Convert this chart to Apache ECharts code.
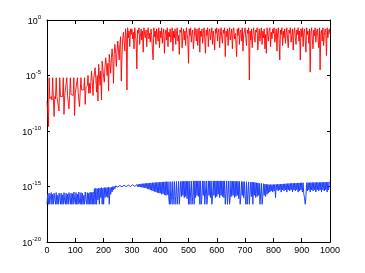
<!DOCTYPE html>
<html>
<head>
<meta charset="utf-8">
<script src="https://cdn.jsdelivr.net/npm/echarts@6/dist/echarts.min.js"></script>
<style>
html,body{margin:0;padding:0;background:#fff;}
#c{width:365px;height:273px;}
</style>
</head>
<body>
<div id="c"></div>
<script>
// x positions: 0..1000 every 2.5 units
var xStep = 2.5;
var xTicks = [0,100,200,300,400,500,600,700,800,900,1000];
var yTickExponents = [0,-5,-10,-15,-20];

// red series, log10 of value, one entry per x step (rows of 50 x-units)
var redLog10 = [
 -7.3,-8.4,-9.6,-5.2,-7.1,-7.0,-6.9,-7.2,-5.2,-7.0,-8.7,-6.9,-7.1,-5.2,-6.9,-7.0,-6.8,-8.2,-5.2,-6.9,
 -7.0,-6.8,-6.9,-5.2,-8.5,-6.8,-6.9,-6.7,-5.2,-6.8,-6.7,-8.0,-6.8,-5.2,-6.7,-6.6,-6.7,-6.8,-5.2,-8.6,
 -6.6,-6.5,-6.6,-5.2,-6.5,-6.4,-7.8,-6.4,-5.2,-6.3,-6.4,-6.2,-6.3,-5.2,-7.6,-6.1,-6.0,-5.9,-5.0,-6.6,
 -5.7,-6.6,-5.5,-4.6,-5.6,-6.8,-5.3,-5.2,-4.3,-5.3,-6.5,-5.0,-7.3,-4.0,-4.9,-5.9,-4.6,-7.2,-3.7,-4.5,
 -4.4,-5.6,-4.2,-3.4,-4.1,-5.0,-3.9,-6.4,-3.1,-3.8,-4.8,-3.5,-2.6,-3.4,-5.7,-3.1,-2.2,-3.0,-4.2,-2.8,
 -1.9,-2.7,-3.6,-2.2,-1.5,-5.5,-3.3,-1.7,-1.1,-1.9,-2.8,-0.8,-1.4,-6.3,-0.7,-1.6,-1.0,-2.4,-0.8,-1.3,
 -0.8,-1.7,-1.1,-2.6,-0.7,-1.4,-1.9,-4.4,-0.9,-1.2,-0.7,-2.2,-1.5,-0.8,-1.8,-1.0,-2.9,-0.7,-1.3,-1.6,
 -0.9,-2.4,-1.1,-0.7,-1.7,-1.2,-2.0,-0.8,-1.4,-2.7,-3.6,-0.7,-1.5,-1.0,-2.2,-0.8,-1.3,-1.9,-0.7,-2.5,
 -1.0,-1.6,-0.7,-2.1,-1.2,-0.8,-3.0,-1.4,-0.9,-1.8,-0.7,-2.4,-1.1,-1.5,-0.8,-2.0,-1.3,-0.7,-2.8,-1.0,
 -1.6,-0.8,-2.2,-1.2,-0.7,-1.9,-1.4,-3.1,-0.9,-1.1,-0.7,-2.5,-1.5,-0.8,-1.8,-1.0,-2.3,-0.7,-1.3,-1.7,
 -3.9,-0.8,-1.4,-0.7,-2.0,-1.2,-0.9,-2.6,-1.6,-0.7,-1.1,-1.9,-0.8,-2.3,-1.3,-0.7,-2.9,-1.0,-1.5,-0.8,
 -2.1,-1.2,-0.7,-1.7,-3.0,-0.9,-1.4,-0.7,-2.4,-1.1,-0.8,-1.8,-1.3,-0.7,-2.2,-1.0,-1.6,-2.7,-0.8,-1.2,
 -0.7,-1.9,-1.1,-0.8,-2.5,-1.4,-0.7,-1.6,-2.1,-0.9,-1.2,-0.7,-3.3,-1.0,-1.5,-0.8,-2.3,-1.1,-0.7,-1.8,
 -1.3,-0.8,-2.6,-1.0,-0.7,-1.7,-1.2,-2.0,-3.3,-0.8,-1.4,-0.7,-2.2,-1.1,-0.9,-1.9,-0.7,-2.8,-1.3,-1.0,
 -0.7,-1.6,-2.3,-0.9,-1.2,-0.7,-5.4,-1.0,-1.8,-0.8,-2.5,-1.3,-0.7,-1.5,-2.0,-0.9,-1.1,-0.7,-2.7,-1.4,
 -0.8,-1.9,-1.2,-0.7,-2.2,-1.0,-1.6,-0.8,-2.6,-1.3,-3.0,-0.7,-1.4,-1.9,-0.9,-0.7,-2.4,-1.1,-1.7,-0.8,
 -1.2,-0.7,-2.0,-1.5,-0.8,-2.8,-1.1,-0.7,-1.8,-3.6,-0.9,-1.3,-0.7,-2.3,-1.0,-1.6,-0.8,-2.1,-1.2,-0.7,
 -1.7,-2.5,-0.9,-1.2,-0.7,-2.0,-1.4,-0.8,-2.7,-1.1,-0.7,-1.6,-2.2,-0.9,-1.3,-0.7,-1.9,-1.0,-3.6,-0.8,
 -1.5,-0.7,-2.4,-1.1,-0.8,-1.8,-2.9,-0.7,-1.3,-1.0,-2.1,-0.8,-4.7,-1.2,-0.7,-1.7,-2.6,-0.9,-1.4,-0.7,
 -2.0,-1.1,-0.8,-1.6,-2.5,-0.7,-4.5,-1.2,-0.9,-1.9,-0.7,-2.3,-1.4,-0.8,-1.1,-3.2,-0.7,-1.6,-1.0,-0.8,
 -1.3
];

// blue series, log10 of value, one entry per x step (rows of 50 x-units)
var blueLog10 = [
 -16.6,-15.7,-16.6,-15.6,-16.6,-15.9,-15.55,-16.6,-15.7,-16.6,-15.6,-16.1,-16.6,-15.55,-16.6,-15.8,-16.6,-15.6,-16.0,-16.6,
 -15.6,-16.6,-15.75,-16.6,-15.55,-16.3,-16.6,-15.6,-16.6,-15.7,-16.6,-15.55,-16.0,-16.6,-15.6,-16.6,-15.65,-16.6,-15.5,-16.2,
 -16.6,-15.55,-16.6,-15.7,-16.6,-15.5,-16.4,-16.6,-15.55,-16.6,-15.6,-16.6,-15.8,-16.6,-15.5,-16.1,-16.6,-15.55,-16.6,-15.6,
 -16.6,-15.5,-16.6,-15.55,-16.6,-15.5,-16.6,-15.2,-16.6,-15.15,-16.6,-15.2,-16.2,-15.15,-16.6,-15.15,-16.0,-15.1,-16.6,-15.15,
 -16.6,-15.1,-16.0,-15.1,-15.9,-15.1,-16.0,-15.05,-16.6,-15.1,-15.7,-15.05,-15.5,-15.0,-15.3,-15.0,-15.2,-14.95,-15.1,-14.95,
 -15.05,-14.92,-15.05,-14.9,-15.05,-14.9,-15.03,-14.9,-15.03,-14.88,-15.02,-14.88,-15.02,-14.88,-15.0,-14.87,-15.0,-14.87,-15.0,-14.86,
 -15.0,-14.85,-15.0,-14.85,-15.0,-14.84,-15.0,-14.83,-15.02,-14.8,-15.03,-14.78,-15.05,-14.76,-15.08,-14.75,-15.1,-14.74,-15.12,-14.72,
 -15.15,-14.7,-15.2,-14.7,-15.25,-14.68,-15.3,-14.68,-15.35,-14.66,-15.4,-14.66,-15.45,-14.64,-15.5,-14.64,-15.55,-14.63,-15.6,-14.62,
 -15.6,-14.6,-15.7,-14.6,-15.65,-14.58,-15.75,-14.58,-15.8,-14.57,-15.75,-14.57,-15.9,-16.6,-14.56,-16.6,-15.9,-14.56,-16.6,-15.8,
 -14.55,-16.6,-15.9,-14.55,-16.6,-15.8,-14.54,-16.6,-16.6,-14.54,-15.9,-14.53,-15.8,-14.53,-16.0,-14.52,-15.9,-14.52,-16.1,-14.52,
 -16.6,-14.51,-16.6,-16.6,-14.51,-16.6,-15.9,-14.5,-16.6,-14.5,-16.0,-14.5,-15.8,-14.5,-15.9,-14.5,-16.6,-14.5,-16.6,-15.9,
 -14.5,-15.8,-14.5,-16.6,-16.6,-14.5,-16.6,-15.9,-14.5,-15.8,-14.5,-16.0,-14.5,-16.6,-15.9,-14.5,-15.8,-14.5,-16.0,-14.5,
 -15.9,-14.5,-15.7,-14.5,-16.0,-14.5,-15.8,-14.5,-15.9,-14.5,-16.0,-14.5,-16.6,-16.6,-14.5,-16.6,-16.6,-14.51,-16.6,-16.0,
 -14.51,-15.9,-14.52,-15.8,-14.52,-16.0,-14.53,-15.9,-14.53,-15.8,-14.54,-16.1,-14.54,-16.6,-15.9,-14.55,-15.8,-14.56,-16.0,-14.57,
 -15.9,-16.6,-14.58,-16.6,-16.6,-14.59,-16.6,-16.6,-14.6,-15.9,-14.61,-16.6,-14.62,-15.8,-14.64,-16.0,-14.66,-15.9,-14.68,-15.8,
 -14.7,-16.6,-16.6,-14.72,-16.6,-15.9,-14.75,-15.8,-14.78,-15.9,-14.8,-15.7,-14.82,-15.6,-14.83,-15.5,-14.83,-15.4,-14.83,-15.5,
 -14.82,-15.4,-14.82,-16.0,-14.81,-15.3,-14.8,-15.4,-14.8,-15.3,-14.79,-15.5,-14.78,-15.3,-14.77,-15.4,-14.76,-15.3,-14.75,-15.5,
 -14.74,-15.3,-14.73,-15.4,-14.72,-15.3,-14.71,-15.5,-14.7,-15.3,-14.7,-15.4,-14.69,-15.3,-14.68,-15.5,-14.68,-15.4,-14.67,-15.3,
 -14.67,-15.5,-14.66,-15.7,-16.0,-16.6,-15.9,-14.66,-15.4,-14.65,-15.3,-14.65,-15.5,-14.65,-15.3,-14.64,-15.4,-14.64,-15.3,-14.64,
 -15.5,-14.63,-15.3,-14.63,-15.4,-14.63,-15.3,-14.62,-15.5,-14.62,-15.3,-14.62,-15.4,-14.61,-15.3,-14.61,-15.5,-14.6,-15.3,-14.6,
 -14.6
];

function toPairs(arr){
  return arr.map(function(e,i){ return [i*xStep, Math.pow(10,e)]; });
}

var chart = echarts.init(document.getElementById('c'), null, {renderer:'canvas'});
var fontFam = '"Liberation Sans Narrow","Liberation Sans",Arial,sans-serif';

function yLabel(v){
  var e = Math.round(Math.log(v)/Math.LN10);
  if (yTickExponents.indexOf(e) < 0) return '';
  return '{b|10}{s|' + e + '}';
}
function xLabel(v){ return xTicks.indexOf(v) >= 0 ? String(v) : ''; }

var axisCommonX = {
  type:'value', min:xTicks[0], max:xTicks[xTicks.length-1], interval:100,
  axisLine:{show:true, onZero:false, lineStyle:{color:'#000', width:1}},
  axisTick:{show:true, inside:true, length:4, lineStyle:{color:'#000', width:1}},
  splitLine:{show:false}
};
var axisCommonY = {
  type:'log', logBase:10, min:1e-20, max:1, interval:5, splitNumber:4,
  axisLine:{show:true, onZero:false, lineStyle:{color:'#000', width:1}},
  axisTick:{show:true, inside:true, length:3, lineStyle:{color:'#000', width:1}},
  splitLine:{show:false},
  minorTick:{show:false}
};

chart.setOption({
  animation:false,
  backgroundColor:'#fff',
  grid:{left:47, right:35, top:20, bottom:31, containLabel:false},
  xAxis:[
    Object.assign({}, axisCommonX, {position:'bottom',
      axisLabel:{show:true, margin:4, color:'#000', fontSize:9, fontFamily:fontFam, formatter:xLabel}}),
    Object.assign({}, axisCommonX, {position:'top', axisLabel:{show:false}})
  ],
  yAxis:[
    Object.assign({}, axisCommonY, {position:'left',
      axisLabel:{show:true, margin:6, color:'#000', formatter:yLabel,
        rich:{
          b:{fontSize:9, fontFamily:fontFam, color:'#000', lineHeight:12, verticalAlign:'bottom'},
          s:{fontSize:6, fontFamily:fontFam, color:'#000', lineHeight:12, verticalAlign:'top'}
        }}}),
    Object.assign({}, axisCommonY, {position:'right', axisLabel:{show:false}})
  ],
  series:[
    {type:'line', name:'red', xAxisIndex:0, yAxisIndex:0, data:toPairs(redLog10),
     showSymbol:false, symbol:'none', lineStyle:{color:'#ff0000', width:0.9}, sampling:null},
    {type:'line', name:'blue', xAxisIndex:0, yAxisIndex:0, data:toPairs(blueLog10),
     showSymbol:false, symbol:'none', lineStyle:{color:'#1f3fff', width:1}, sampling:null}
  ]
});
</script>
</body>
</html>
